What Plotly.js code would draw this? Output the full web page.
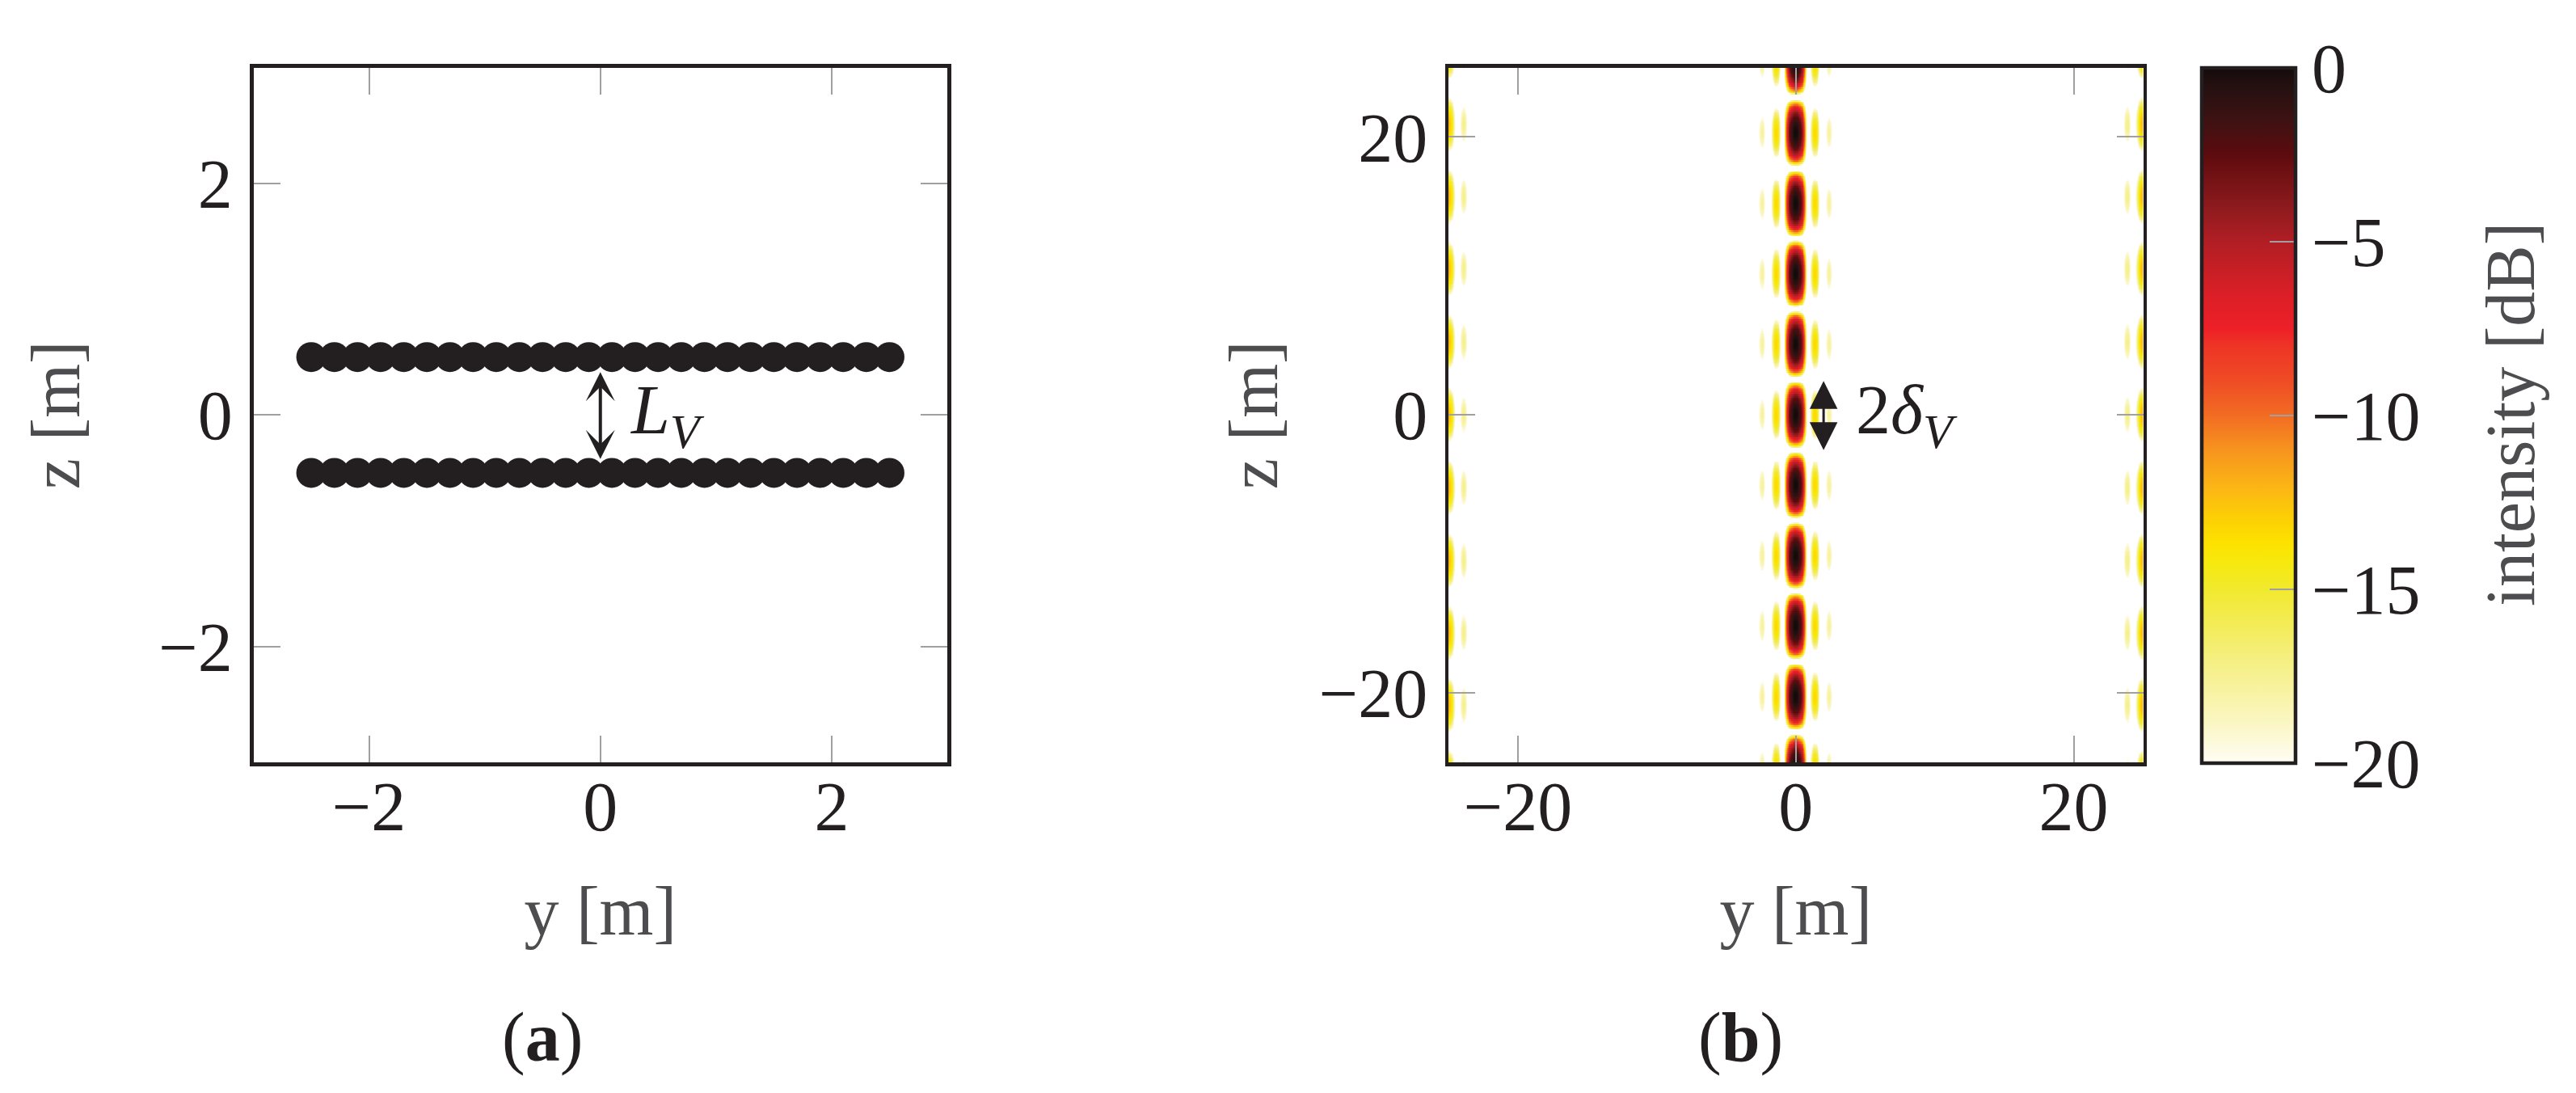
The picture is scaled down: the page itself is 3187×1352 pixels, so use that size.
<!DOCTYPE html>
<html>
<head>
<meta charset="utf-8">
<script src="https://cdn.plot.ly/plotly-3.0.1.min.js"></script>
<style>
html,body{margin:0;padding:0;background:#ffffff;}
#chart{width:3187px;height:1352px;}
</style>
</head>
<body>
<div id="chart"></div>
<script>
// ---------- Panel (a): antenna element positions ----------
const elemY = [-2.5,-2.3,-2.1,-1.9,-1.7,-1.5,-1.3,-1.1,-0.9,-0.7,-0.5,-0.3,-0.1,
               0.1,0.3,0.5,0.7,0.9,1.1,1.3,1.5,1.7,1.9,2.1,2.3,2.5];
const rowZ = [0.5, -0.5];
const arrowA = [0.38, -0.38];          // z extent of the L_V arrow

// ---------- Panel (b): lobe structure of the intensity map ----------
// vertical (z) lobe centres of the central column and of the edge (grating) lobes
const mainLobeZ = [-25.4,-20.3,-15.2,-10.15,-5.08,0,5.08,10.15,15.2,20.3,25.4];
const mainLobeHalfHeight = 2.54;
const edgeLobeZ = [-26.1,-20.9,-15.7,-10.5,-5.25,0,5.25,10.5,15.7,20.9,26.1];
const edgeLobeHalfHeight = 2.65;
// horizontal (y) lobes: centre, peak level [dB], half width to null
const mainColLobeY     = [-2.4, -1.4, 0, 1.4, 2.4];
const mainColLobePeak  = [-17.8, -13.3, 0, -13.3, -17.8];
const mainColLobeWidth = [0.49, 0.49, 0.85, 0.49, 0.49];
const edgeColLobeY     = [-25.35, -23.9, 23.9, 25.35];
const edgeColLobePeak  = [-10.5, -17.3, -17.3, -10.5];
const edgeColLobeWidth = [1.1, 0.5, 0.5, 1.1];
const arrowB = [2.53, -2.53];          // z extent of the 2δ_V arrow
const arrowBY = 2.0;

// ticks
const ticksA = [-2, 0, 2];
const ticksB = [-20, 0, 20];
const cbTicks = [-20, -15, -10, -5, 0];

// colour map (value in dB -> colour)
const cmapVals = [-20,-19,-18,-17,-16,-15,-14.3,-13.7,-13,-12,-11,-10,-9,-8,-7.5,-6.5,-5,-4,-3,-2.5,-1.5,-0.5,0];
const cmapCols = ['#fefdf3','#fbf7c9','#f8f3a3','#f5ef80','#f3ec55','#f1e92d','#f6e90f','#fde200','#fdd004',
                  '#fbb316','#f7931e','#f26b23','#ef4b25','#ee3426','#ed1f27','#da1f26','#b01e24','#8c1a1d',
                  '#6e1013','#5c0b0e','#3d1212','#231010','#140a0b'];

// ---------- build the heat-map table ----------
const ZMIN = -20, ZMAX = 0;
const gridY = [], gridZ = [];
for (let i = 0; i <= 1000; i++) gridY.push(-25 + i * 0.05);
for (let j = 0; j <= 500; j++) gridZ.push(-25 + j * 0.1);

function cos2(d, half) {
  if (Math.abs(d) >= half) return 0;
  const t = Math.cos(Math.PI * d / (2 * half));
  return t * t;
}
function zFactor(z, centres, half) {
  let s = 0;
  for (const c of centres) s += cos2(z - c, half);
  return s;
}
function yFactor(y, centres, peaks, widths) {
  let s = 0;
  for (let k = 0; k < centres.length; k++) s += Math.pow(10, peaks[k] / 10) * cos2(y - centres[k], widths[k]);
  return s;
}
const ym = gridY.map(y => yFactor(y, mainColLobeY, mainColLobePeak, mainColLobeWidth));
const ye = gridY.map(y => yFactor(y, edgeColLobeY, edgeColLobePeak, edgeColLobeWidth));
const intensity = gridZ.map(z => {
  const zm = zFactor(z, mainLobeZ, mainLobeHalfHeight);
  const ze = zFactor(z, edgeLobeZ, edgeLobeHalfHeight);
  return gridY.map((y, i) => {
    const I = ym[i] * zm + ye[i] * ze;
    if (I <= 0) return null;
    const db = 10 * Math.log10(I);
    return db < ZMIN ? null : Math.min(db, ZMAX);
  });
});
const colorscale = cmapVals.map((v, k) => [(v - ZMIN) / (ZMAX - ZMIN), cmapCols[k]]);

// ---------- geometry ----------
const W = 3187, H = 1352;
const FONT = 'Liberation Serif, DejaVu Serif, serif';
const FS = 86;
const INK = '#231f20', GREY_TXT = '#4d4d4f', TICK = '#a0a0a0';
const plotTop = 83.5, plotBot = 943;
const yDom = [1 - plotBot / H, 1 - plotTop / H];
const xDomA = [313.5 / W, 1172 / W];
const xDomB = [1792 / W, 2651.5 / W];
const cbLeft = 2724, cbThick = 116;

function axisStyle(extra) {
  return Object.assign({
    showline: true, linecolor: INK, linewidth: 4.5, mirror: 'allticks',
    ticks: 'inside', ticklen: 33, tickwidth: 2, tickcolor: TICK,
    showgrid: false, zeroline: false, fixedrange: true,
    tickfont: {family: FONT, size: FS, color: INK}
  }, extra);
}
function axTitle(t, standoff) {
  return {text: t, font: {family: FONT, size: FS, color: GREY_TXT}, standoff: standoff};
}

const traces = [];
rowZ.forEach(z => {
  traces.push({
    type: 'scatter', mode: 'markers', xaxis: 'x', yaxis: 'y',
    x: elemY, y: elemY.map(() => z),
    marker: {size: 37, color: INK, line: {width: 0}},
    hoverinfo: 'skip'
  });
});
traces.push({
  type: 'heatmap', xaxis: 'x2', yaxis: 'y2',
  x: gridY, y: gridZ, z: intensity,
  zmin: ZMIN, zmax: ZMAX, colorscale: colorscale, zsmooth: false,
  hoverinfo: 'skip',
  colorbar: {
    x: cbLeft / W, xanchor: 'left', xpad: 0,
    y: yDom[1], yanchor: 'top', ypad: 0,
    len: yDom[1] - yDom[0], lenmode: 'fraction',
    thickness: cbThick, thicknessmode: 'pixels',
    outlinewidth: 4.5, outlinecolor: INK, borderwidth: 0,
    tickmode: 'array', tickvals: cbTicks,
    ticks: 'inside', ticklen: 34, tickwidth: 2, tickcolor: TICK,
    tickfont: {family: FONT, size: FS, color: INK}
  }
});

// ticks on the left side of the colour bar
const shapes = cbTicks.filter(v => v > ZMIN && v < ZMAX).map(v => {
  const yy = yDom[0] + (v - ZMIN) / (ZMAX - ZMIN) * (yDom[1] - yDom[0]);
  return {type: 'line', xref: 'paper', yref: 'paper',
          x0: (cbLeft + 2) / W, x1: (cbLeft + 36) / W, y0: yy, y1: yy,
          line: {color: TICK, width: 2}};
});

const annotations = [
  {xref: 'x', yref: 'y', x: 0, y: arrowA[1], ax: 0, ay: arrowA[0], axref: 'x', ayref: 'y',
   text: '', showarrow: true, arrowside: 'end+start', arrowhead: 3, startarrowhead: 3,
   arrowsize: 1.5, startarrowsize: 1.5, arrowwidth: 4, arrowcolor: INK},
  {xref: 'x', yref: 'y', x: 0.24, y: 0, xanchor: 'left', yanchor: 'middle', showarrow: false,
   text: '<i>L</i><sub><i>V</i></sub>', font: {family: FONT, size: FS, color: INK}},
  {xref: 'x2', yref: 'y2', x: arrowBY, y: arrowB[1], ax: arrowBY, ay: arrowB[0], axref: 'x2', ayref: 'y2',
   text: '', showarrow: true, arrowside: 'end+start', arrowhead: 2, startarrowhead: 2,
   arrowsize: 2.3, startarrowsize: 2.3, arrowwidth: 3, arrowcolor: INK},
  {xref: 'x2', yref: 'y2', x: 4.2, y: 0, xanchor: 'left', yanchor: 'middle', showarrow: false,
   text: '2<i>δ</i><sub><i>V</i></sub>', font: {family: FONT, size: FS, color: INK}},
  {xref: 'paper', yref: 'paper', x: 3106 / W, y: 1 - 513 / H, xanchor: 'center', yanchor: 'middle',
   textangle: -90, showarrow: false, text: 'intensity [dB]',
   font: {family: FONT, size: FS, color: GREY_TXT}},
  {xref: 'paper', yref: 'paper', x: 671 / W, y: 1 - 1283 / H, xanchor: 'center', yanchor: 'middle',
   showarrow: false, text: '(<b>a</b>)', font: {family: FONT, size: FS, color: INK}},
  {xref: 'paper', yref: 'paper', x: 2153 / W, y: 1 - 1283 / H, xanchor: 'center', yanchor: 'middle',
   showarrow: false, text: '(<b>b</b>)', font: {family: FONT, size: FS, color: INK}}
];

const layout = {
  width: W, height: H,
  margin: {l: 0, r: 0, t: 0, b: 0, pad: 0},
  paper_bgcolor: '#ffffff', plot_bgcolor: '#ffffff',
  showlegend: false,
  font: {family: FONT, size: FS, color: INK},
  xaxis: axisStyle({domain: xDomA, range: [-3, 3], tickvals: ticksA, anchor: 'y',
                    ticklabelstandoff: -24, title: axTitle('y [m]', 52)}),
  yaxis: axisStyle({domain: yDom, range: [-3, 3], tickvals: ticksA, anchor: 'x',
                    ticklabelstandoff: 4, title: axTitle('z [m]', 70)}),
  xaxis2: axisStyle({domain: xDomB, range: [-25, 25], tickvals: ticksB, anchor: 'y2',
                     ticklabelstandoff: -24, title: axTitle('y [m]', 52)}),
  yaxis2: axisStyle({domain: yDom, range: [-25, 25], tickvals: ticksB, anchor: 'x2',
                     ticklabelstandoff: 4, title: axTitle('z [m]', 24)}),
  shapes: shapes,
  annotations: annotations
};

Plotly.newPlot('chart', traces, layout, {displayModeBar: false, staticPlot: true});
</script>
</body>
</html>
